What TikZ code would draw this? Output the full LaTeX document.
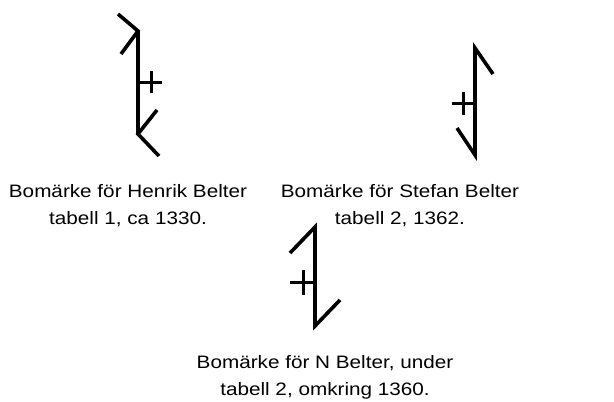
\documentclass[tikz,border=0pt]{standalone}
\usepackage{fontspec}
\newfontfamily\labfont[FakeStretch=1.15]{Liberation Sans}
\begin{document}
\begin{tikzpicture}[x=1pt,y=-1pt,
  runestroke/.style={line width=3.6pt,line cap=butt,line join=miter},
  crossline/.style={line width=3pt,line cap=butt},
  caption/.style={font=\labfont\fontsize{18}{27}\selectfont,align=center,inner sep=0pt,anchor=base}]
\useasboundingbox (0,0) rectangle (614,402);
% Henrik Belter
\draw[runestroke] (118,14) -- (138,31) -- (121,54);
\draw[runestroke] (138,31) -- (138,134);
\draw[runestroke] (157,110) -- (138,134) -- (159,156);
\draw[crossline] (140,82) -- (162,82);
\draw[crossline] (151,71) -- (151,93);
% Stefan Belter
\draw[runestroke] (493,74) -- (475,48) -- (475,155) -- (457,128);
\draw[crossline] (452,103) -- (475,103);
\draw[crossline] (463,92) -- (463,115);
% N Belter
\draw[runestroke] (290,253) -- (315,227) -- (315,326) -- (340,300);
\draw[crossline] (290,282) -- (313,282);
\draw[crossline] (303,270) -- (303,295);
% captions (base anchor = baseline of the last line)
\node[caption] (c1) at (128,224) {Bomärke för Henrik Belter\\tabell 1, ca 1330.};
\node[caption] (c2) at (400,224) {Bomärke för Stefan Belter\\tabell 2, 1362.};
\node[caption] (c3) at (325,395) {Bomärke för N Belter, under\\tabell 2, omkring 1360.};
\end{tikzpicture}
\end{document}
